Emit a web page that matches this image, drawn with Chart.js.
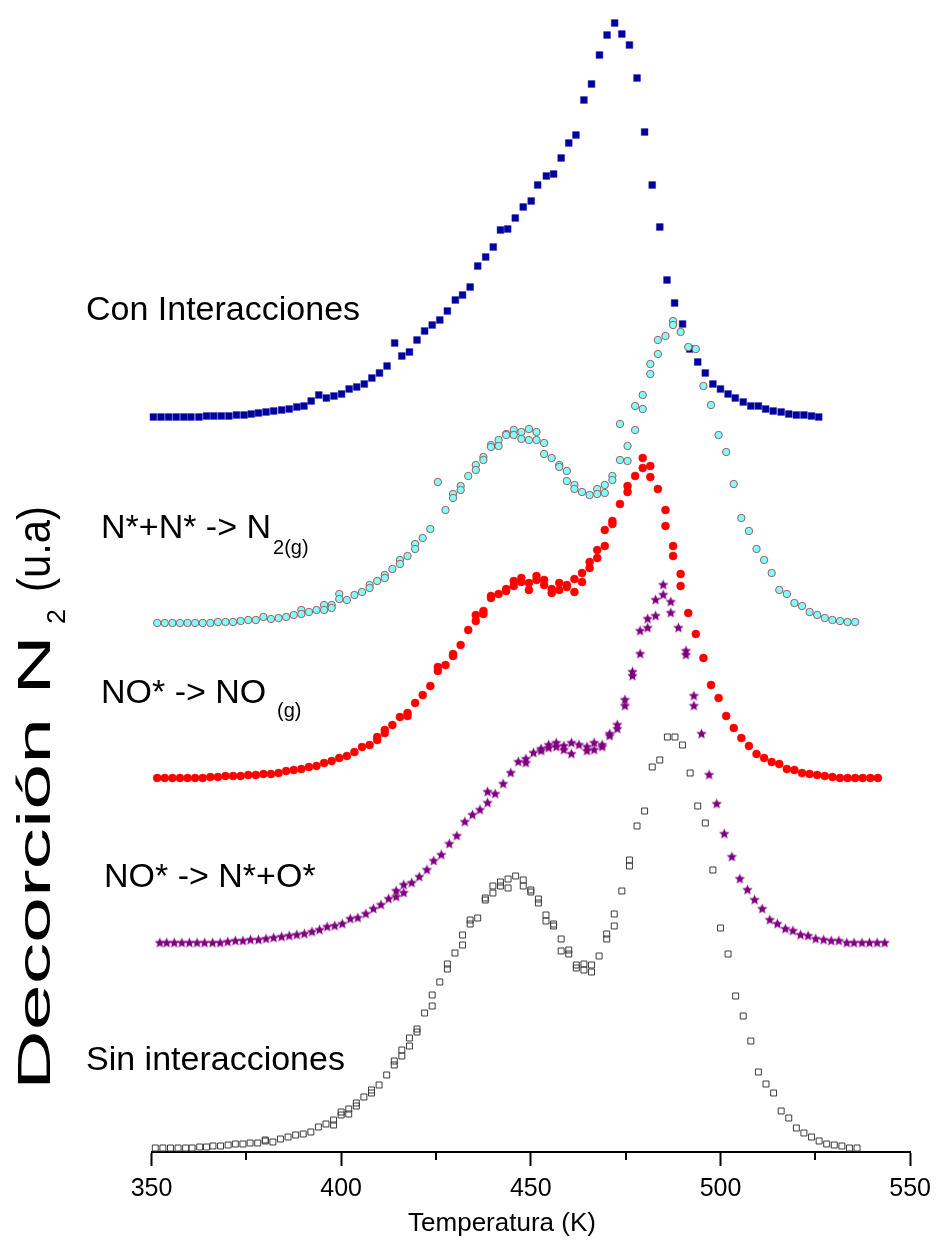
<!DOCTYPE html>
<html>
<head>
<meta charset="utf-8">
<script src="https://cdn.jsdelivr.net/npm/chart.js@4.4.1/dist/chart.umd.min.js"></script>
<style>
  html, body { margin: 0; padding: 0; background: #fff; }
</style>
</head>
<body>
<canvas id="tpd" width="939" height="1244"></canvas>
<script>
// Temperatura (K) y señal (u.a), una serie por mecanismo
const conTemp = [350.5,352.5,354.5,356.5,358.5,360.4,362.5,364.5,366.4,368.4,
  370.4,372.4,374.4,376.3,378.2,380.2,382.2,384.3,386.3,388.3,
  390.2,392.1,394.1,396.1,398.1,400.1,402.1,404.1,406.1,408.1,
  410.1,412.1,414.1,416,418,420,422,424,426,428,
  430.1,432,434,436,438.1,440.1,442,443.9,445.9,448,
  450.1,451.8,454.1,456,458,460,461.9,464,466,468.1,
  470.1,472.1,474,476,478,480,482,484,485.9,487.9,
  490,491.9,494,496,498,500,502,503.9,506,508,
  510,511.9,513.9,516,518,520,522,524,525.9];
const conVal = [0,0,0,0,0,0,0,0.1,0.1,0.1,
  0.1,0.2,0.2,0.3,0.4,0.5,0.6,0.7,0.8,1.0,
  1.1,1.6,2.2,1.9,2.1,2.3,2.8,3.0,3.3,3.9,
  4.4,5.1,7.4,6.1,6.5,7.7,8.6,9.2,9.7,10.6,
  11.7,12.2,13.0,15.1,16.0,17.0,18.7,18.8,19.9,21.0,
  21.6,23.2,24.1,24.3,25.9,27.4,28.2,31.7,33.3,36.2,
  38.2,39.4,38.3,37.2,33.9,28.5,23.2,19.0,13.7,11.4,
  9.3,6.8,5.5,4.4,3.3,2.8,2.3,1.9,1.5,1.1,
  1.1,0.8,0.6,0.5,0.3,0.2,0.2,0.1,0];

const n2Temp = [351.5,353.5,355.5,357.5,359.5,361.5,363.5,365.5,367.5,369.5,
  371.5,373.5,375.5,377.5,379.5,381.5,383.5,385.5,387.5,389.5,
  389.5,391.5,393.5,395.5,395.5,397.5,397.5,399.5,399.5,401.5,
  403.5,405.5,407.5,407.5,409.5,411.5,411.5,413.5,415.5,415.5,
  417.5,419.5,419.5,421.5,423.5,425.5,427.5,429.5,429.5,431.5,
  431.5,433.5,435.5,435.5,437.5,437.5,439.5,439.5,441.5,441.5,
  443.5,443.5,445.5,445.5,447.5,447.5,449.5,449.5,451.5,451.5,
  453.5,453.5,455.5,457.5,457.5,459.5,459.5,461.5,461.5,463.5,
  465.5,467.5,467.5,469.5,469.5,471.5,471.5,473.5,473.5,475.5,
  475.5,477.5,477.5,479.5,479.5,481.5,481.5,483.5,483.5,485.5,
  487.5,487.5,489.5,491.5,493.5,495.5,497.5,499.5,501.5,503.5,
  505.5,507.5,509.5,511.5,513.5,515.5,517.5,519.5,521.5,523.5,
  525.5,527.5,529.5,531.5,533.5,535.5];
const n2Val = [0,0,0,0,0,0,0,0,0.1,0.1,
  0.1,0.2,0.3,0.3,0.6,0.4,0.5,0.6,0.8,1.3,
  0.9,1.1,1.3,1.8,1.3,1.8,1.5,2.9,2.4,2.3,
  2.8,3.1,3.8,3.5,4.2,4.8,4.5,5.4,6.3,5.9,
  6.7,7.9,7.4,8.5,9.4,14.1,11.3,12.9,12.5,13.7,
  13.3,14.7,15.8,15.3,16.6,16.3,17.8,17.6,18.3,17.7,
  18.9,18.8,19.3,18.8,19.1,18.4,19.4,18.3,19.1,18.3,
  18.0,16.9,16.5,15.8,15.6,15.2,14.2,13.8,13.4,13.1,
  12.8,13.4,12.9,13.8,13.0,14.7,14.3,19.9,16.3,17.7,
  16.2,21.7,19.3,22.8,21.4,25.9,24.9,28.3,26.9,28.7,
  30.2,29.8,29.1,27.6,27.4,23.7,21.8,18.8,17.1,13.9,
  10.5,9.2,7.4,6.3,5.0,3.3,2.9,2.0,1.7,1.1,
  0.8,0.5,0.3,0.2,0.1,0.1];

const noTemp = [351.5,353.5,355.5,357.5,359.5,361.5,363.5,365.5,367.5,369.5,
  371.5,373.5,375.5,377.5,379.5,381.5,383.5,385.5,387.5,389.5,
  391.5,393.5,395.5,397.5,399.5,401.5,403.5,405.5,407.5,409.5,
  409.5,411.5,411.5,413.5,415.5,417.5,417.5,419.5,421.5,423.5,
  425.5,425.5,427.5,429.5,429.5,431.5,433.5,435.5,435.5,437.5,
  437.5,439.5,439.5,441.5,443.5,443.5,445.5,445.5,447.5,447.5,
  449.5,449.5,451.5,451.5,453.5,453.5,455.5,455.5,457.5,457.5,
  459.5,459.5,461.5,461.5,463.5,463.5,465.5,465.5,467.5,467.5,
  469.5,469.5,471.5,471.5,473.5,475.5,475.5,477.5,479.5,479.5,
  481.5,481.5,483.5,485.5,485.5,487.5,487.5,489.5,489.5,491.5,
  493.5,495.5,497.5,499.5,501.5,503.5,505.5,507.5,509.5,511.5,
  513.5,515.5,517.5,519.5,521.5,523.5,525.5,527.5,529.5,531.5,
  533.5,535.5,537.5,539.5,541.5];
const noVal = [0,0,0,0,0,0,0,0.1,0.1,0.2,
  0.2,0.2,0.3,0.3,0.4,0.4,0.5,0.7,0.8,0.9,
  1.1,1.2,1.5,1.7,2.0,2.2,2.6,3.1,3.3,3.8,
  4.1,4.5,4.8,5.3,6.1,6.5,6.2,7.5,8.3,9.2,
  10.7,11.1,11.3,12.2,12.4,13.3,14.8,15.7,16.3,16.4,
  16.7,18.0,18.2,18.4,18.7,18.9,19.2,19.7,20.0,19.6,
  19.5,18.8,20.2,19.8,19.8,19.3,18.9,18.5,19.5,18.8,
  19.3,19.1,19.9,18.6,20.5,19.6,21.6,21.0,22.8,22.0,
  24.8,23.2,25.7,25.4,27.4,29.2,28.6,30.2,32.0,31.0,
  31.2,30.1,28.9,26.8,25.2,23.2,22.2,20.4,19.2,16.5,
  14.4,12.0,9.3,8.0,6.2,5.0,4.0,3.2,2.4,2.0,
  1.6,1.4,0.9,0.8,0.5,0.4,0.3,0.2,0.1,0,
  0,0,0,0,0];

const nTemp = [352.2,354,356,358,360,362,364,366.1,368.1,370.1,
  372.1,374.1,376.1,378.2,380.2,382.2,384.3,386.3,388.3,390.3,
  392.3,394.3,396.3,398.3,400.3,402.4,404.4,406.5,408.5,410.5,
  412.5,414.5,414.5,416.5,416.5,418.6,420.6,422.6,424.4,426.4,
  428.5,430.5,432.6,434.6,436.6,438.6,438.6,440.6,442.7,444.7,
  446.7,448.7,448.7,450.7,452.7,452.7,454.7,454.7,456.7,456.7,
  458.7,458.7,460.7,460.7,462.7,464.8,464.8,466.7,466.7,468.8,
  468.8,470.8,470.8,472.8,472.8,474.8,474.8,476.8,476.8,478.8,
  478.8,480.8,480.8,482.9,482.9,484.9,484.9,486.9,486.9,488.9,
  490.9,490.9,493,493,495,497,499,501,503,505.1,
  507.1,509,511,513,515,517.1,519.1,521.1,523.1,525.1,
  527.2,529.2,531.2,533.3,535.2,537.3,539.3,541.3,543.3];
const nVal = [0,0,0,0,0,0,0,0,0,0.1,
  0.2,0.2,0.3,0.3,0.4,0.5,0.6,0.7,0.8,0.9,
  1.1,1.3,1.6,1.7,1.9,2.4,2.5,2.9,3.4,3.8,
  4.4,4.6,5.2,5.0,5.8,6.0,6.6,7.3,8.2,8.8,
  9.9,10.7,12.1,12.8,13.3,14.0,15.1,14.9,15.9,17.0,
  18.1,18.4,18.0,19.0,19.4,19.2,19.5,19.8,19.6,20.0,
  19.3,19.7,18.9,20.0,19.8,19.2,19.6,19.3,20.0,19.6,
  19.8,20.7,20.9,21.4,21.8,23.7,24.3,26.7,27.1,28.9,
  31.2,31.5,32.4,32.7,34.3,34.8,35.8,33.0,34.1,31.5,
  28.8,29.2,23.7,24.7,20.9,16.8,13.9,10.9,8.6,6.4,
  5.3,4.3,3.4,2.3,1.9,1.4,1.2,0.8,0.7,0.4,
  0.3,0.2,0.2,0,0,0,0,0,0];

const sinTemp = [351,353,355,357,359,360.7,362.7,364.5,366.2,368.2,
  370.2,372.1,374.1,376,378,380,380,382,384,386,
  388,390,392,394,396,398,398,400,400,402,
  402,404,404,406,408,408,410,412,414,414,
  416,416,418,418,420,420,422,424,424,426,
  428,428,430,432,432,434,434,436,438,438,
  440,440,442,442,444,444,446,448,448,450,
  450,452,452,454,454,456,456,458,458,460,
  460,462,462,464,464,466,466,468,470,470,
  472,472,474,476,476,478,480,482,484,486,
  488,490,492,494,496,498,500,502,504,506,
  508,510,512,514,516,518,520,522,524,526,
  528,530,532,534,536];
const sinVal = [0,0,0,0,0,0,0.1,0.1,0.2,0.2,
  0.3,0.4,0.4,0.5,0.5,0.7,0.8,0.6,0.9,1.1,
  1.3,1.4,1.6,2.1,2.4,2.8,2.3,3.3,3.6,3.9,
  3.4,4.5,4.2,5.1,5.8,5.5,6.3,7.3,8.7,8.3,
  9.8,9.2,11.0,10.2,11.9,11.6,13.5,15.3,14.2,16.6,
  18.4,17.9,19.5,21.3,20.3,22.8,22.4,23.0,25.0,24.8,
  26.2,25.5,26.6,26.2,26.9,26.0,27.2,26.8,26.2,25.8,
  25.6,24.9,24.5,23.3,22.7,22.4,22.2,20.9,19.7,19.8,
  19.4,18.3,18.0,18.4,17.8,18.3,17.6,19.2,21.4,20.9,
  23.4,22.2,25.7,28.8,28.2,32.2,33.7,38.1,38.8,41.1,
  41.1,40.3,37.5,34.2,32.5,27.8,22.0,19.4,15.2,13.2,
  10.7,7.6,6.4,5.5,3.7,3.0,2.0,1.5,1.1,0.7,
  0.4,0.3,0.2,0,0];

// desplazamiento vertical de cada curva (u.a)
const offsets = { sin: 0.4, n: 20.9, no: 37.4, n2: 52.9, con: 73.5 };

const xTicksMinor = [375, 425, 475, 525];

const FONT = 'Arial, "Liberation Sans", sans-serif';
Chart.defaults.font.family = FONT;
Chart.defaults.color = '#000';

function toPoints(temps, vals, off) {
  return temps.map((t, i) => ({ x: t, y: vals[i] + off }));
}

// estrella rellena para la serie NO* -> N*+O*
function makeStar(r, color) {
  const c = document.createElement('canvas');
  const s = Math.ceil(r * 2 + 2);
  c.width = s; c.height = s;
  const g = c.getContext('2d');
  g.translate(s / 2, s / 2);
  g.beginPath();
  for (let i = 0; i < 10; i++) {
    const rad = i % 2 ? r * 0.45 : r;
    const a = -Math.PI / 2 + i * Math.PI / 5;
    g.lineTo(rad * Math.cos(a), rad * Math.sin(a));
  }
  g.closePath();
  g.fillStyle = color;
  g.fill();
  return c;
}

function drawParts(ctx, x, y, parts) {
  parts.forEach(p => {
    ctx.font = p.size + 'px ' + FONT;
    const px = p.x !== undefined ? p.x : x + (p.dx || 0);
    ctx.fillText(p.t, px, y + (p.dy || 0));
    x = px + ctx.measureText(p.t).width;
  });
}

// texto girado: cada trozo se estira hasta ocupar [desde, hasta] a lo largo del eje
function drawStretched(ctx, t, size, from, len, dy) {
  ctx.save();
  ctx.font = size + 'px ' + FONT;
  const w = ctx.measureText(t).width;
  ctx.translate(from, dy || 0);
  ctx.scale(len / w, 1);
  ctx.fillText(t, 0, 0);
  ctx.restore();
}

const labelsPlugin = {
  id: 'seriesLabels',
  afterDraw(chart) {
    const ctx = chart.ctx;
    ctx.save();
    ctx.fillStyle = '#000';
    ctx.textBaseline = 'alphabetic';
    drawParts(ctx, 86, 320, [{ t: 'Con Interacciones', size: 34 }]);
    drawParts(ctx, 101, 538, [{ t: 'N*+N* -> N', size: 34 }, { t: '2(g)', size: 20, dx: 2, dy: 16 }]);
    drawParts(ctx, 101, 703, [{ t: 'NO* -> NO', size: 34 }, { t: '(g)', size: 20, x: 277, dy: 14 }]);
    drawParts(ctx, 104, 887, [{ t: 'NO* -> N*+O*', size: 34 }]);
    drawParts(ctx, 86, 1070, [{ t: 'Sin interacciones', size: 34 }]);

    // título del eje X (algo a la izquierda del centro, como en la figura)
    ctx.font = '26px ' + FONT;
    ctx.textAlign = 'center';
    ctx.textBaseline = 'middle';
    ctx.fillText('Temperatura (K)', 502, 1224);
    ctx.textAlign = 'left';
    ctx.textBaseline = 'alphabetic';

    // título del eje Y
    ctx.translate(50, 1090);
    ctx.rotate(-Math.PI / 2);
    drawStretched(ctx, 'Decorción N', 46, 0, 455);
    drawStretched(ctx, '2', 26, 466, 15, 15);
    drawStretched(ctx, '(u.a)', 46, 498, 86);
    ctx.restore();

    // marcas menores del eje X
    const s = chart.scales.x;
    ctx.save();
    ctx.strokeStyle = '#000';
    ctx.lineWidth = 2;
    ctx.beginPath();
    xTicksMinor.forEach(v => {
      const x = Math.round(s.getPixelForValue(v));
      ctx.moveTo(x, s.top);
      ctx.lineTo(x, s.top + 8);
    });
    ctx.stroke();
    ctx.restore();
  }
};

new Chart(document.getElementById('tpd'), {
  type: 'scatter',
  data: {
    datasets: [
      {
        label: 'Sin interacciones',
        data: toPoints(sinTemp, sinVal, offsets.sin),
        pointStyle: 'rect', pointRadius: 4.2,
        backgroundColor: 'rgba(255,255,255,0)', borderColor: '#3a3a3a', borderWidth: 1,
        clip: false
      },
      {
        label: 'NO* -> N*+O*',
        data: toPoints(nTemp, nVal, offsets.n),
        pointStyle: makeStar(5.5, '#800080'), pointRadius: 5,
        backgroundColor: '#800080', borderColor: '#800080',
        clip: false
      },
      {
        label: 'NO* -> NO(g)',
        data: toPoints(noTemp, noVal, offsets.no),
        pointStyle: 'circle', pointRadius: 4,
        backgroundColor: '#ff0000', borderColor: '#ff0000', borderWidth: 0.5,
        clip: false
      },
      {
        label: 'N*+N* -> N2(g)',
        data: toPoints(n2Temp, n2Val, offsets.n2),
        pointStyle: 'circle', pointRadius: 3.7,
        backgroundColor: '#80ffff', borderColor: '#a05a5a', borderWidth: 1,
        clip: false
      },
      {
        label: 'Con Interacciones',
        data: toPoints(conTemp, conVal, offsets.con),
        pointStyle: 'rect', pointRadius: 4.8,
        backgroundColor: '#00009c', borderColor: '#2020b0', borderWidth: 0.5,
        clip: false
      }
    ]
  },
  options: {
    responsive: false,
    animation: false,
    events: [],
    layout: { padding: { left: 151.5, right: 25.5, top: 12, bottom: 0 } },
    plugins: {
      legend: { display: false },
      tooltip: { enabled: false }
    },
    scales: {
      x: {
        type: 'linear',
        min: 350, max: 550,
        ticks: { stepSize: 50, font: { size: 25 }, color: '#000', padding: 8, maxRotation: 0 },
        grid: { display: true, drawOnChartArea: false, drawTicks: true, tickLength: 14, tickWidth: 2, tickColor: '#000' },
        border: { display: true, color: '#000', width: 2 },
        title: { display: false },
        afterFit(scale) { scale.height = 92; }
      },
      y: { display: false, min: 0, max: 114 }
    }
  },
  plugins: [labelsPlugin]
});
</script>
</body>
</html>
